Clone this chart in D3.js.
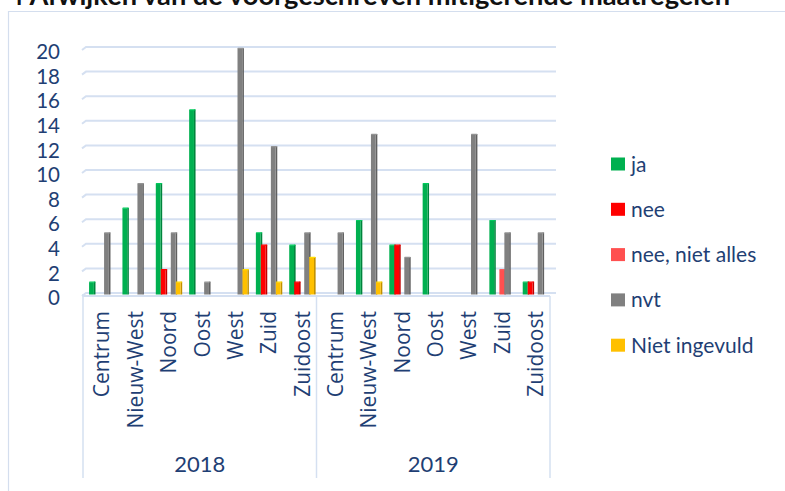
<!DOCTYPE html>
<html><head><meta charset="utf-8">
<script src="https://cdn.jsdelivr.net/npm/d3@7/dist/d3.min.js"></script>
<style>
html,body{margin:0;padding:0;background:#fff;overflow:hidden;}
svg{display:block;}
</style></head>
<body>
<script>
const title = "4 Afwijken van de voorgeschreven mitigerende maatregelen";
const years = ["2018", "2019"];
const regions = ["Centrum", "Nieuw-West", "Noord", "Oost", "West", "Zuid", "Zuidoost"];
const seriesNames = ["ja", "nee", "nee, niet alles", "nvt", "Niet ingevuld"];
const seriesColors = ["#00B050", "#FF0000", "#FF5050", "#808080", "#FFC000"];
const ja           = [1, 7, 9, 15, 0, 5, 4,   0, 6, 4, 9, 0, 6, 1];
const nee          = [0, 0, 2, 0, 0, 4, 1,    0, 0, 4, 0, 0, 0, 1];
const neeNietAlles = [0, 0, 0, 0, 0, 0, 0,    0, 0, 0, 0, 0, 2, 0];
const nvt          = [5, 9, 5, 1, 20, 12, 5,  5, 13, 3, 0, 13, 5, 5];
const nietIngevuld = [0, 0, 1, 0, 2, 1, 3,    0, 1, 0, 0, 0, 0, 0];
const yTicks = [0, 2, 4, 6, 8, 10, 12, 14, 16, 18, 20];

const seriesValues = [ja, nee, neeNietAlles, nvt, nietIngevuld];
const categories = [];
years.forEach(y => regions.forEach(r => categories.push({year: y, region: r})));

const W = 785, H = 491;
const navy = "#1F3F74";
const grid = "#D5E0F1";
const svg = d3.select("body").append("svg").attr("width", W).attr("height", H);

// chart frame
svg.append("path").attr("d", `M8.5,${H} V11.5 H${W}`).attr("fill", "none")
  .attr("stroke", "#D4DEEE").attr("stroke-width", 1.2);

// title (clipped at top, as in the reference)
svg.append("text").attr("x", 8).attr("y", 5)
  .attr("font-family", "Lato, 'Open Sans', sans-serif").attr("font-weight", "bold")
  .attr("font-size", 26).attr("fill", "#111")
  .attr("textLength", 722).attr("lengthAdjust", "spacingAndGlyphs")
  .text(title);

const x0 = 83, x1 = 550;
const x = d3.scaleBand().domain(d3.range(categories.length)).range([x0, x1]).padding(0);
const xs = d3.scaleBand().domain(seriesNames).range([-12.5, 12.5]).padding(0);
const y = d3.scaleLinear().domain([0, 20]).range([294.5, 48.5]);

// gridlines
const g = svg.append("g");
yTicks.forEach(t => {
  const yy = y(t) - 1.5;
  g.append("path").attr("d", `M82,${yy + 3} L86,${yy} H556`).attr("fill", "none")
    .attr("stroke", grid).attr("stroke-width", 2);
});

// y axis labels
const yAxis = d3.axisLeft(y).tickValues(yTicks).tickSize(0).tickPadding(0);
const ya = svg.append("g").attr("transform", "translate(60,3)").call(yAxis);
ya.select(".domain").remove();
ya.selectAll("text").attr("font-family", "Lato, sans-serif").attr("font-size", 20.5)
  .attr("fill", navy).attr("dy", "0.35em");

// x axis line and group separators
svg.append("line").attr("x1", x0).attr("x2", x1).attr("y1", 296).attr("y2", 296)
  .attr("stroke", grid).attr("stroke-width", 2);
[x0, x(7), x1].forEach((xx, i) => {
  svg.append("line").attr("x1", xx).attr("x2", xx).attr("y1", i === 0 ? 294 : 296).attr("y2", 478)
    .attr("stroke", grid).attr("stroke-width", 1.5);
});

// bars
const off = 1.8, faceW = 4.8, sideW = 1.6;
seriesNames.forEach((s, si) => {
  const col = seriesColors[si];
  const dark = d3.color(col).darker(0.8).formatHex();
  const light = d3.color(col).brighter(0.4).formatHex();
  const bg = svg.append("g");
  seriesValues[si].forEach((v, ci) => {
    if (!v) return;
    const cx = x(ci) + x.bandwidth() / 2 + off + xs(s) + xs.bandwidth() / 2;
    const left = cx - faceW / 2;
    const top = y(v), base = y(0);
    bg.append("rect").attr("x", left + faceW).attr("y", top - 0.5).attr("width", sideW)
      .attr("height", base - top + 0.5).attr("fill", dark);
    bg.append("rect").attr("x", left).attr("y", top).attr("width", faceW)
      .attr("height", base - top).attr("fill", col);
    bg.append("rect").attr("x", left).attr("y", top - 0.8).attr("width", faceW + sideW)
      .attr("height", 1.2).attr("fill", light).attr("rx", 0.6);
  });
});

// category labels
categories.forEach((c, i) => {
  svg.append("text")
    .attr("transform", `translate(${x(i) + x.bandwidth() / 2},311) rotate(-90)`)
    .attr("text-anchor", "end").attr("dy", 9.8)
    .attr("font-family", "'Open Sans', sans-serif").attr("font-size", 21)
    .attr("fill", navy).text(c.region);
});
// year labels
years.forEach((yr, i) => {
  const a = x(i * 7), b = i === years.length - 1 ? x1 : x((i + 1) * 7);
  svg.append("text").attr("x", (a + b) / 2).attr("y", 472).attr("text-anchor", "middle")
    .attr("font-family", "Lato, sans-serif").attr("font-size", 22).attr("fill", navy).text(yr);
});

// legend
const leg = svg.append("g");
seriesNames.forEach((s, i) => {
  const cy = 164 + i * 45.3;
  leg.append("rect").attr("x", 611).attr("y", cy - 6.5).attr("width", 14).attr("height", 13)
    .attr("fill", seriesColors[i]);
  leg.append("text").attr("x", 631).attr("y", cy + 7.5)
    .attr("font-family", "Lato, sans-serif").attr("font-size", 21).attr("fill", navy).text(s);
});
</script>
</body></html>
